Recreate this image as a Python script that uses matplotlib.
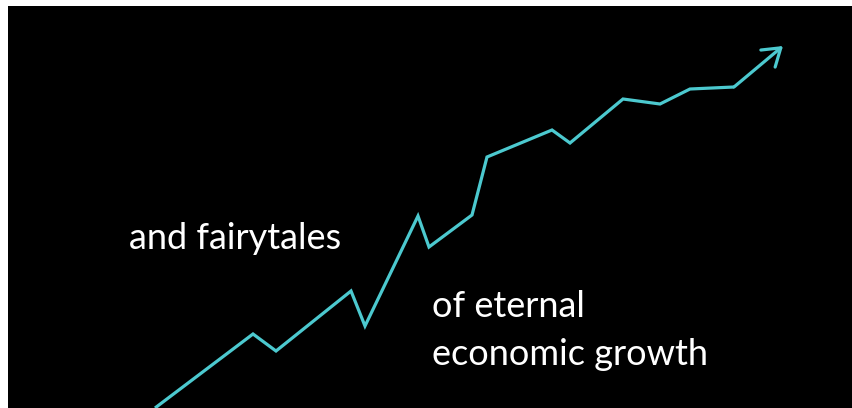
import matplotlib
matplotlib.use("Agg")
import matplotlib.pyplot as plt

# growth line (x = time step, y = level)
t = [155, 253, 276, 351, 365, 418, 429, 472, 487, 552, 570, 623, 660, 690, 734]
level = [0, 74, 57, 117, 82, 192, 161, 193, 251, 278, 265, 309, 304, 319, 321]
# arrow tip at the end of the line
tip_t, tip_level = 783, 362

line_color = "#4cc9cf"

fig = plt.figure(figsize=(8.53, 4.08), dpi=100, facecolor="white")
ax = fig.add_axes([8 / 853, 0, 845 / 853, 402 / 408])
ax.set_facecolor("black")
ax.set_xlim(8, 853)
ax.set_ylim(0, 402)
ax.set_xticks([])
ax.set_yticks([])
for s in ax.spines.values():
    s.set_visible(False)

ax.plot(t, level, color=line_color, lw=2.3, solid_joinstyle="miter",
        solid_capstyle="butt")
ax.annotate("", xy=(tip_t, tip_level), xytext=(t[-1], level[-1]),
            arrowprops=dict(arrowstyle="->,head_length=0.6,head_width=0.4",
                            color=line_color, lw=2.3, mutation_scale=20,
                            shrinkA=0, shrinkB=0))

fam = ["Lato", "DejaVu Sans"]
txt = dict(color="white", fontsize=26, family=fam, ha="left", va="baseline")
ax.text(129, 402 - 243, "and fairytales", **txt)
ax.text(432, 402 - 311, "of eternal", **txt)
ax.text(432, 402 - 359, "economic growth", **txt)

fig.savefig("out.png", dpi=100, facecolor="white")
